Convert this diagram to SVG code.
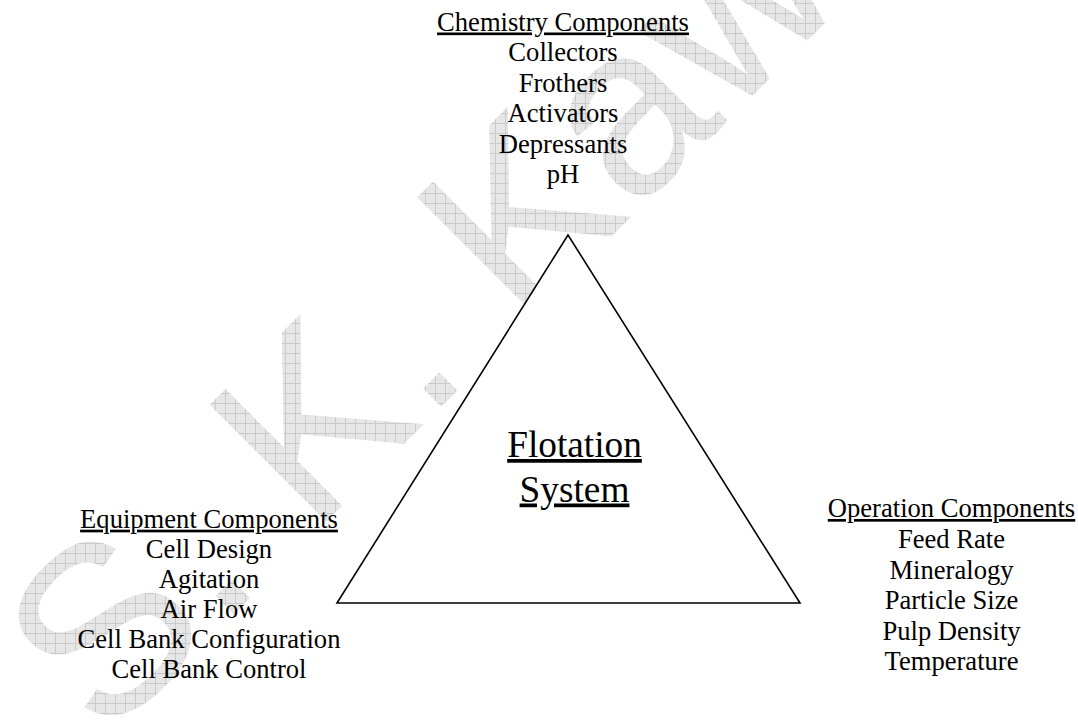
<svg xmlns="http://www.w3.org/2000/svg" width="1078" height="720" viewBox="0 0 1078 720">
  <defs>
    <pattern id="grid" patternUnits="userSpaceOnUse" width="10" height="10" patternTransform="rotate(45)">
      <rect width="10" height="10" fill="#e6e6e6"/>
      <path d="M0 0.5H10M0.5 0V10" stroke="#cacaca" stroke-width="1" fill="none"/>
    </pattern>
  </defs>
  <style>
    .lbl { font-family: "Liberation Serif", "Times New Roman", serif; font-size: 26.6px; fill: #000; text-anchor: middle; }
    .hd { text-decoration: underline; }
    .big { font-size: 37.3px; }
    .wm { font-family: "Liberation Sans", Arial, sans-serif; font-size: 240px; fill: url(#grid); }
  </style>
  <rect width="1078" height="720" fill="#fff"/>
  <g id="watermark">
    <text class="wm" transform="translate(105,743) rotate(-45)">S. K. Kawatra</text>
  </g>
  <g id="node-chemistry">
    <text class="lbl hd" x="563" y="30.5">Chemistry Components</text>
    <text class="lbl" x="563" y="61">Collectors</text>
    <text class="lbl" x="563" y="91.5">Frothers</text>
    <text class="lbl" x="563" y="122">Activators</text>
    <text class="lbl" x="563" y="152.5">Depressants</text>
    <text class="lbl" x="563" y="183">pH</text>
  </g>
  <g id="node-flotation">
    <polygon points="568,235 337,603 800,603" fill="#fff" stroke="#000" stroke-width="1.6" stroke-linejoin="miter"/>
    <text class="lbl hd big" x="574.5" y="457">Flotation</text>
    <text class="lbl hd big" x="574.5" y="501.5">System</text>
  </g>
  <g id="node-equipment">
    <text class="lbl hd" x="209" y="527.7">Equipment Components</text>
    <text class="lbl" x="209" y="558">Cell Design</text>
    <text class="lbl" x="209" y="588">Agitation</text>
    <text class="lbl" x="209" y="618">Air Flow</text>
    <text class="lbl" x="209" y="648">Cell Bank Configuration</text>
    <text class="lbl" x="209" y="678">Cell Bank Control</text>
  </g>
  <g id="node-operation">
    <text class="lbl hd" x="951.5" y="517">Operation Components</text>
    <text class="lbl" x="951.5" y="548">Feed Rate</text>
    <text class="lbl" x="951.5" y="578.5">Mineralogy</text>
    <text class="lbl" x="951.5" y="609">Particle Size</text>
    <text class="lbl" x="951.5" y="639.5">Pulp Density</text>
    <text class="lbl" x="951.5" y="670">Temperature</text>
  </g>
</svg>
